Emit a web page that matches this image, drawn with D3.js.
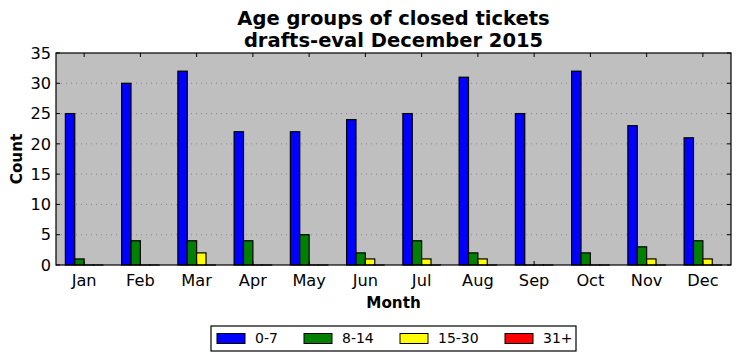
<!DOCTYPE html>
<meta charset="utf-8">
<style>
  body { margin: 0; background: #fff; }
  text { font-family: "DejaVu Sans", sans-serif; }
</style>
<body>
<div id="chart"></div>
<script src="https://cdn.jsdelivr.net/npm/d3@7"></script>
<script>
var months = ["Jan", "Feb", "Mar", "Apr", "May", "Jun", "Jul", "Aug", "Sep", "Oct", "Nov", "Dec"];
var groups = ["0-7", "8-14", "15-30", "31+"];
var colors = ["#0000ff", "#008000", "#ffff00", "#ff0000"];
var age0_7 = [25, 30, 32, 22, 22, 24, 25, 31, 25, 32, 23, 21];
var age8_14 = [1, 4, 4, 4, 5, 2, 4, 2, 0, 2, 3, 4];
var age15_30 = [0, 0, 2, 0, 0, 1, 1, 1, 0, 0, 1, 1];
var age31 = [0, 0, 0, 0, 0, 0, 0, 0, 0, 0, 0, 0];
var yTicks = [0, 5, 10, 15, 20, 25, 30, 35];

var series = [age0_7, age8_14, age15_30, age31];

var W = 741, H = 361;
var m = {left: 56, right: 10, top: 53, bottom: 96};
var pw = W - m.left - m.right, ph = H - m.top - m.bottom;

var svg = d3.select("#chart").append("svg")
    .attr("width", W).attr("height", H);

var x = d3.scaleBand().domain(months).range([0, pw]);
var y = d3.scaleLinear().domain([0, 35]).range([ph, 0]);
var bw = x.bandwidth() / 6;

var g = svg.append("g").attr("transform", "translate(" + m.left + "," + m.top + ")");

g.append("rect").attr("width", pw).attr("height", ph).attr("fill", "#bfbfbf");

// dotted grid
g.selectAll("line.grid").data(yTicks.slice(1, -1)).enter().append("line")
    .attr("x1", 0).attr("x2", pw)
    .attr("y1", function(d) { return y(d); }).attr("y2", function(d) { return y(d); })
    .attr("stroke", "#8a8a8a").attr("stroke-dasharray", "1,4");

// bars
series.forEach(function(vals, si) {
    g.selectAll("rect.s" + si).data(vals).enter().append("rect")
        .attr("x", function(d, i) { return x(months[i]) + x.bandwidth() / 2 + (si - 2) * bw; })
        .attr("y", function(d) { return y(d); })
        .attr("width", bw)
        .attr("height", function(d) { return Math.max(0.01, ph - y(d)); })
        .attr("fill", colors[si])
        .attr("stroke", "#000").attr("stroke-width", 1.2);
});

// frame
g.append("rect").attr("width", pw).attr("height", ph)
    .attr("fill", "none").attr("stroke", "#000").attr("stroke-width", 1.2);

// ticks inward on all sides
months.forEach(function(mo) {
    var cx = x(mo) + x.bandwidth() / 2;
    g.append("line").attr("x1", cx).attr("x2", cx).attr("y1", ph).attr("y2", ph - 4).attr("stroke", "#000");
    g.append("line").attr("x1", cx).attr("x2", cx).attr("y1", 0).attr("y2", 4).attr("stroke", "#000");
    g.append("text").attr("x", cx).attr("y", ph + 21).attr("text-anchor", "middle")
        .attr("font-size", 16.2).text(mo);
});
yTicks.forEach(function(t) {
    g.append("line").attr("x1", 0).attr("x2", 4).attr("y1", y(t)).attr("y2", y(t)).attr("stroke", "#000");
    g.append("line").attr("x1", pw).attr("x2", pw - 4).attr("y1", y(t)).attr("y2", y(t)).attr("stroke", "#000");
    g.append("text").attr("x", -5).attr("y", y(t)).attr("dy", "0.35em").attr("text-anchor", "end")
        .attr("font-size", 16.2).text(t);
});

// titles
svg.append("text").attr("x", m.left + pw / 2).attr("y", 25).attr("text-anchor", "middle")
    .attr("font-size", 19.5).attr("font-weight", "bold").text("Age groups of closed tickets");
svg.append("text").attr("x", m.left + pw / 2).attr("y", 47).attr("text-anchor", "middle")
    .attr("font-size", 19.5).attr("font-weight", "bold").text("drafts-eval December 2015");
svg.append("text").attr("x", m.left + pw / 2).attr("y", 308).attr("text-anchor", "middle")
    .attr("font-size", 15.2).attr("font-weight", "bold").text("Month");
svg.append("text").attr("transform", "translate(22," + (m.top + ph / 2) + ") rotate(-90)")
    .attr("text-anchor", "middle").attr("font-size", 15.2).attr("font-weight", "bold").text("Count");

// legend
var lg = svg.append("g").attr("transform", "translate(211,326)");
lg.append("rect").attr("width", 365).attr("height", 25).attr("fill", "#fff")
    .attr("stroke", "#000").attr("stroke-width", 1.2);
var lx = [6, 93, 189, 294];
groups.forEach(function(name, i) {
    lg.append("rect").attr("x", lx[i]).attr("y", 7.5).attr("width", 28).attr("height", 10)
        .attr("fill", colors[i]).attr("stroke", "#000");
    lg.append("text").attr("x", lx[i] + 38).attr("y", 12.5).attr("dy", "0.35em")
        .attr("font-size", 14).text(name);
});
</script>
</body>
